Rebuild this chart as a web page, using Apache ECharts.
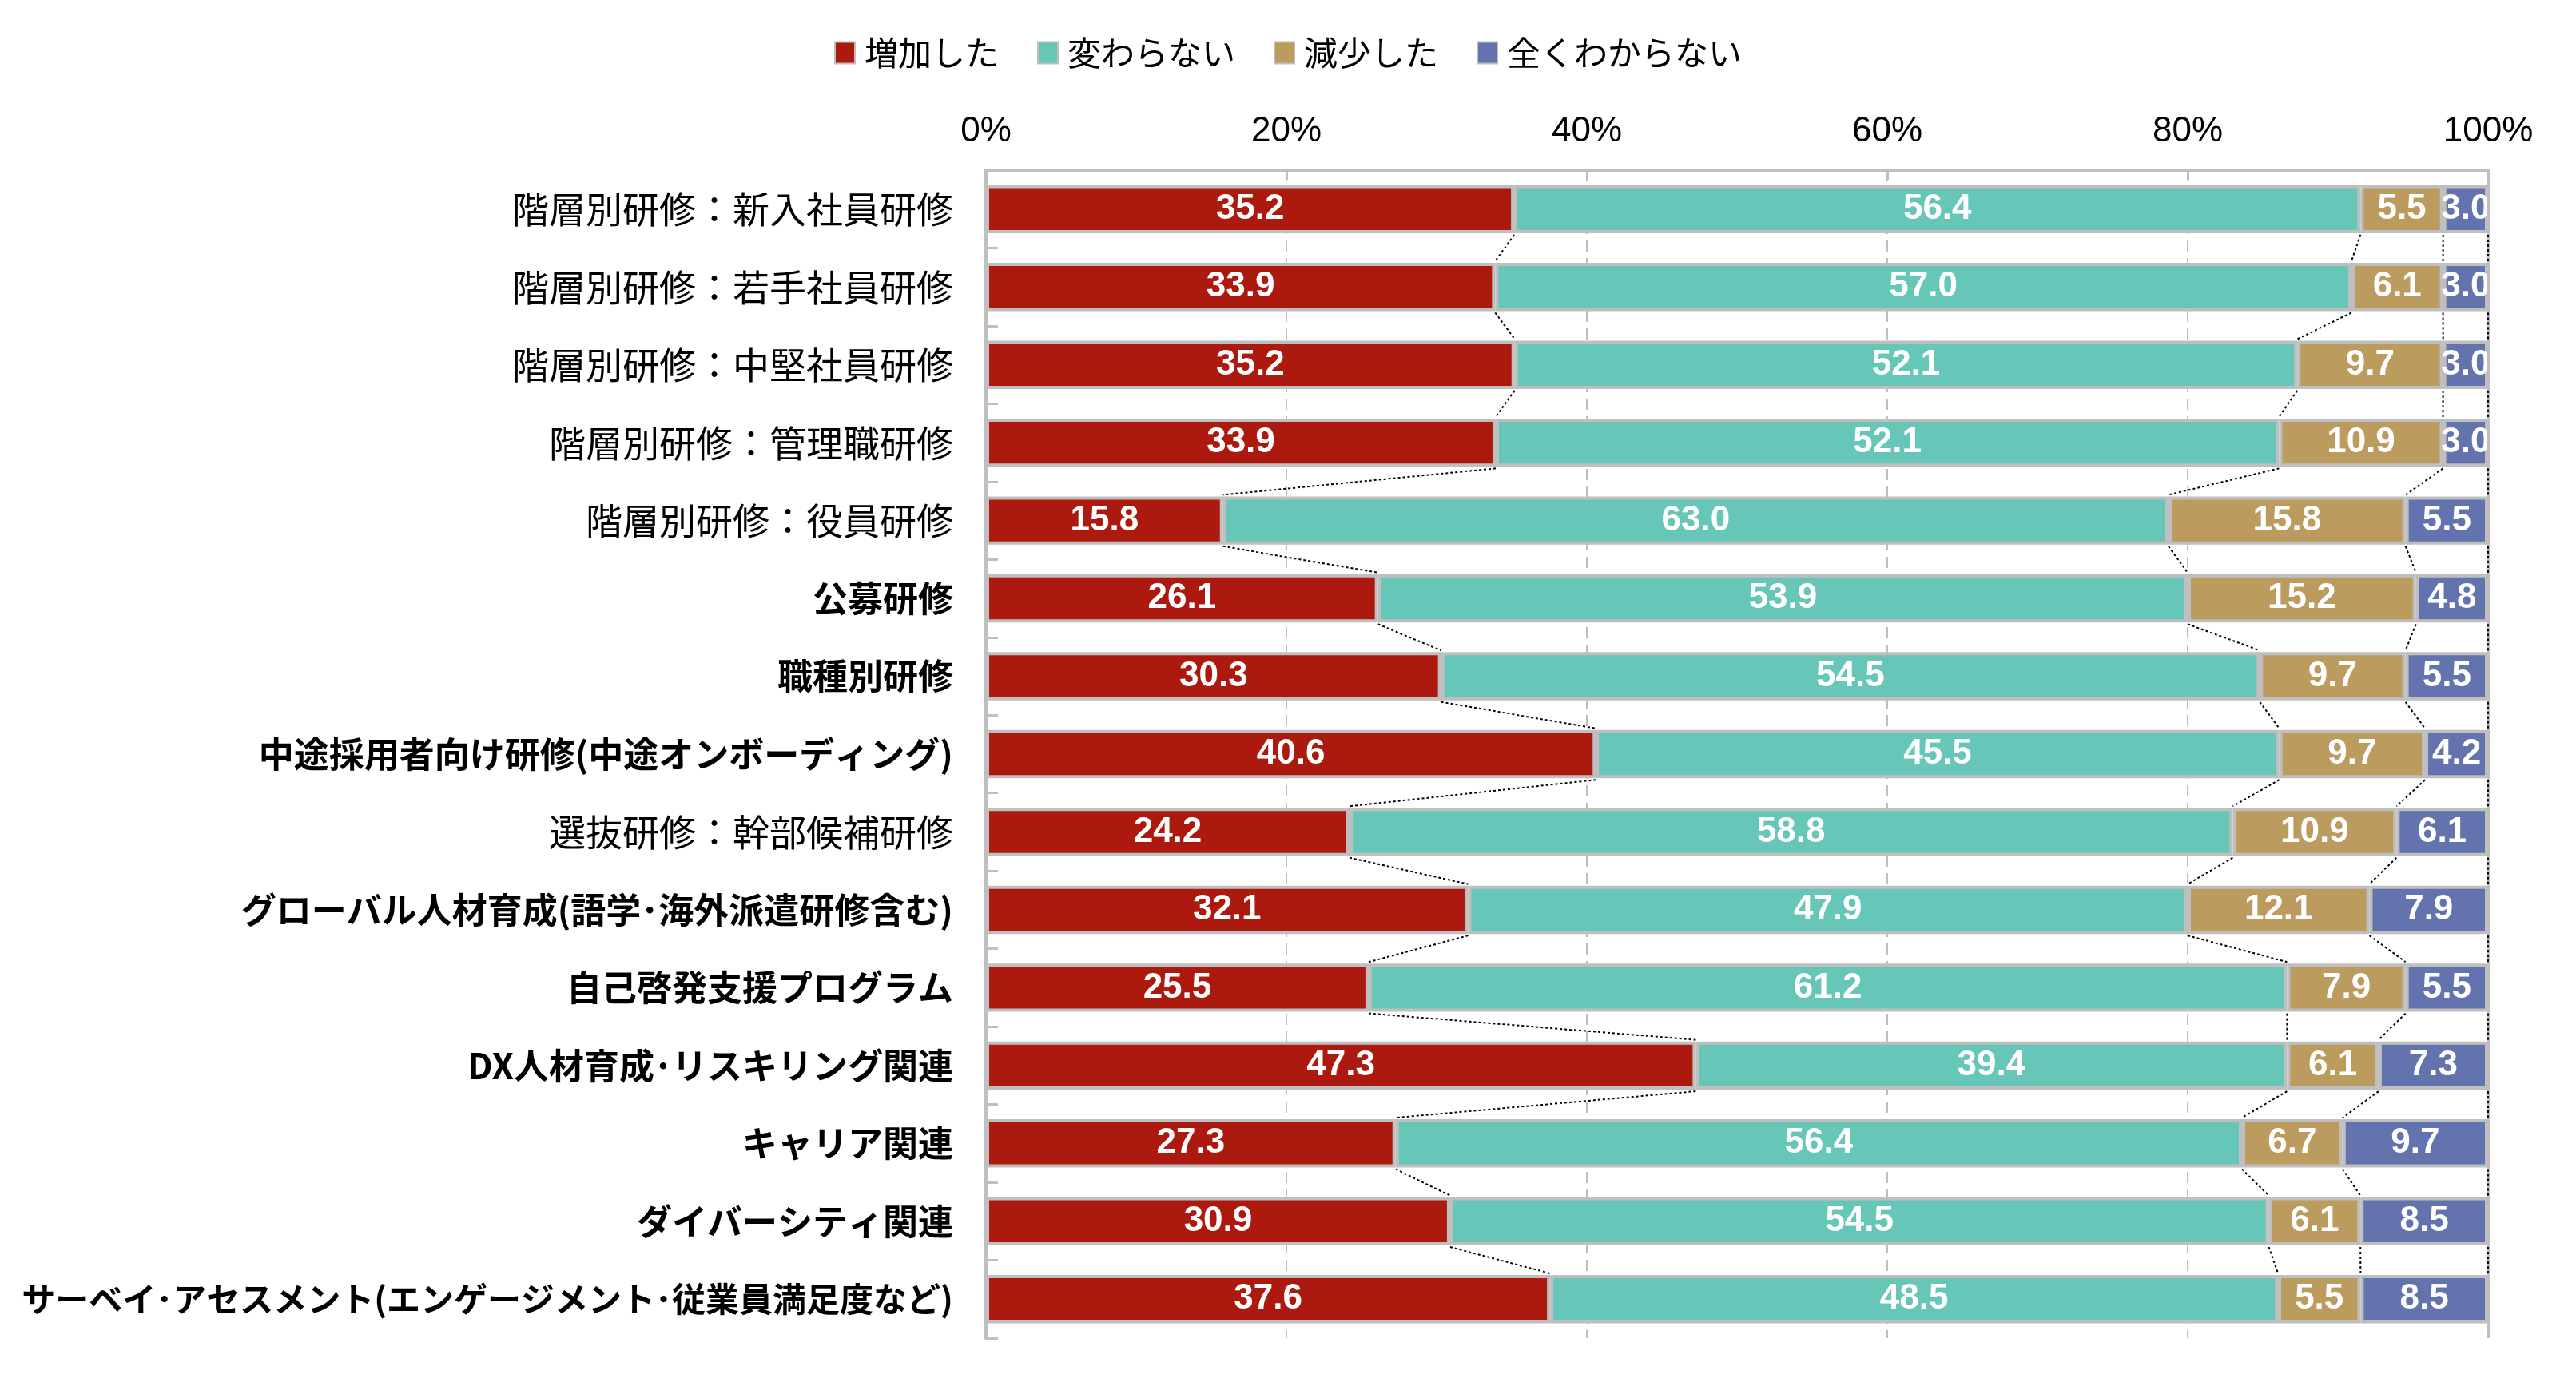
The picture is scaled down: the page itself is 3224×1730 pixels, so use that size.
<!DOCTYPE html>
<html>
<head>
<meta charset="utf-8">
<script src="https://cdn.jsdelivr.net/npm/echarts@6/dist/echarts.min.js"></script>
<style>
html,body{margin:0;padding:0;background:#fff;}
#chart{width:3224px;height:1730px;}
</style>
</head>
<body>
<div id="chart"></div>
<script>
const categories = [
  '階層別研修：新入社員研修',
  '階層別研修：若手社員研修',
  '階層別研修：中堅社員研修',
  '階層別研修：管理職研修',
  '階層別研修：役員研修',
  '公募研修',
  '職種別研修',
  '中途採用者向け研修(中途オンボーディング)',
  '選抜研修：幹部候補研修',
  'グローバル人材育成(語学･海外派遣研修含む)',
  '自己啓発支援プログラム',
  'DX人材育成･リスキリング関連',
  'キャリア関連',
  'ダイバーシティ関連',
  'サーベイ･アセスメント(エンゲージメント･従業員満足度など)'
];
const boldFlags = [false,false,false,false,false,true,true,true,false,true,true,true,true,true,true];
const seriesNames = ['増加した','変わらない','減少した','全くわからない'];
const increased = [35.2,33.9,35.2,33.9,15.8,26.1,30.3,40.6,24.2,32.1,25.5,47.3,27.3,30.9,37.6];
const unchanged = [56.4,57.0,52.1,52.1,63.0,53.9,54.5,45.5,58.8,47.9,61.2,39.4,56.4,54.5,48.5];
const decreased = [5.5,6.1,9.7,10.9,15.8,15.2,9.7,9.7,10.9,12.1,7.9,6.1,6.7,6.1,5.5];
const unknown   = [3.0,3.0,3.0,3.0,5.5,4.8,5.5,4.2,6.1,7.9,5.5,7.3,9.7,8.5,8.5];
const xTicks = [0,20,40,60,80,100];

const colors = ['#AC1A0F','#66C6B8','#BB9B5E','#6273AD'];
const raw = [increased, unchanged, decreased, unknown];
const totals = categories.map((_, i) => raw.reduce((s, a) => s + a[i], 0));
const norm = raw.map(a => a.map((v, i) => v / totals[i] * 100));
const cum = categories.map((_, i) => {
  let s = 0; return norm.map(a => (s += a[i]));
});
const connectorData = [];
for (let i = 0; i < categories.length - 1; i++) {
  for (let k = 0; k < 4; k++) {
    connectorData.push([cum[i][k], i, cum[i+1][k]]);
  }
}
const GAP = 0.38;
const gray = '#BFBFBF';

function labelSize(c, bold) {
  if (!bold) return 46;
  return c.length > 26 ? 42 : 44;
}

const chart = echarts.init(document.getElementById('chart'));
const barSeries = seriesNames.map((name, k) => ({
  name: name,
  type: 'bar',
  stack: 'total',
  barCategoryGap: (GAP*100) + '%',
  data: norm[k],
  itemStyle: { color: colors[k], borderColor: gray, borderWidth: 4 },
  label: {
    show: true,
    position: 'inside',
    color: '#fff',
    fontFamily: 'Liberation Sans',
    fontWeight: 'bold',
    fontSize: 44,
    formatter: p => raw[k][p.dataIndex].toFixed(1)
  },
  emphasis: { disabled: true },
  markLine: k === 3 ? {
    silent: true, symbol: 'none', label: { show: false },
    lineStyle: { color: gray, width: 3, type: 'solid' },
    data: [{ xAxis: 100 }]
  } : undefined
}));

chart.setOption({
  animation: false,
  backgroundColor: '#fff',
  legend: {
    data: seriesNames,
    top: 40,
    left: 'center',
    icon: 'rect',
    itemWidth: 25,
    itemHeight: 27,
    itemGap: 48,
    textStyle: { fontFamily: 'Noto Sans CJK JP', fontSize: 42, color: '#000', padding: [0,0,0,7] }
  },
  grid: { left: 1234, right: 110, top: 213, bottom: 55, containLabel: false, outerBoundsMode: 'none' },
  xAxis: {
    type: 'value',
    position: 'top',
    min: 0, max: 100, interval: 20,
    axisLine: { show: true, lineStyle: { color: gray, width: 4 } },
    axisTick: { show: true, inside: true, length: 12, lineStyle: { color: gray, width: 3 } },
    axisLabel: {
      formatter: '{value}%', fontFamily: 'Liberation Sans', fontSize: 44, color: '#000', margin: 26,
      customValues: xTicks
    },
    splitLine: { show: true, lineStyle: { color: gray, width: 2, type: [14, 8] } }
  },
  yAxis: {
    type: 'category',
    inverse: true,
    data: categories.map((c, i) => ({
      value: c,
      textStyle: { fontWeight: boldFlags[i] ? 'bold' : 'normal', fontSize: labelSize(c, boldFlags[i]) }
    })),
    axisLine: { show: true, lineStyle: { color: gray, width: 4 } },
    axisTick: { show: true, inside: true, length: 15, lineStyle: { color: gray, width: 3 } },
    axisLabel: { fontFamily: 'Noto Sans CJK JP', fontSize: 44, color: '#000', margin: 41 }
  },
  series: barSeries.concat([{
    type: 'custom',
    name: 'connectors',
    silent: true,
    z: 5,
    encode: { x: [0, 2], y: 1 },
    data: connectorData,
    renderItem: function (params, api) {
      const i = api.value(1);
      const p1 = api.coord([api.value(0), i]);
      const p2 = api.coord([api.value(2), i + 1]);
      const band = api.size([0, 1])[1];
      const half = band * (1 - GAP) / 2 + 2;
      return {
        type: 'line',
        shape: { x1: p1[0], y1: p1[1] + half, x2: p2[0], y2: p2[1] - half },
        style: { stroke: '#000', lineWidth: 2, lineDash: [3, 3] }
      };
    }
  }])
});
</script>
</body>
</html>
